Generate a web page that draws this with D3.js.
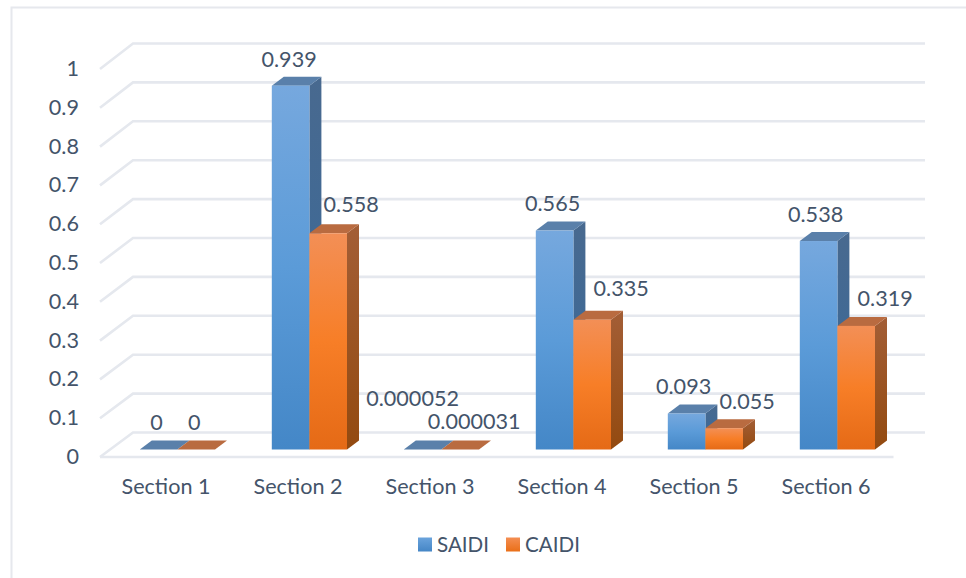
<!DOCTYPE html>
<html>
<head>
<meta charset="utf-8">
<script src="https://cdn.jsdelivr.net/npm/d3@7"></script>
<style>
  html, body { margin: 0; padding: 0; background: #fff; }
  svg { display: block; }
  text { font-family: Lato, "Open Sans", sans-serif; fill: #44546a; }
</style>
</head>
<body>
<svg id="chart" width="966" height="578"></svg>
<script>
// Reliability indices per network section
const categories = ["Section 1", "Section 2", "Section 3", "Section 4", "Section 5", "Section 6"];
const saidi = [0, 0.939, 0.000052, 0.565, 0.093, 0.538];
const caidi = [0, 0.558, 0.000031, 0.335, 0.055, 0.319];
const saidiText = ["0", "0.939", "0.000052", "0.565", "0.093", "0.538"];
const caidiText = ["0", "0.558", "0.000031", "0.335", "0.055", "0.319"];
const yTicks = [0, 0.1, 0.2, 0.3, 0.4, 0.5, 0.6, 0.7, 0.8, 0.9, 1];

// Hand-placed data label offsets from each bar's top centre
const saidiNudge = [[-2, -19.5], [-1.5, -19], [-10, -43.5], [-2, -20], [-3, -19.5], [-3, -19]];
const caidiNudge = [[-2, -19.5], [23, -21], [14, -20.5], [29, -24], [23, -19.5], [29, -20]];

const width = 966, height = 578;
const depthX = 12, depthY = 9;       // bar extrusion
const fontSize = 21.6;
const svg = d3.select("#chart");

// Front-plane bar scale, back wall scale and side wall scale share one value domain
const yBar = d3.scaleLinear().domain([0, 1]).range([449.5, 62]);
const yBack = d3.scaleLinear().domain([0, 1]).range([432.5, 43.5]);
const ySide = d3.scaleLinear().domain([0, 1]).range([457, 69]);

const x0 = d3.scaleBand().domain(categories).range([111, 903]).paddingInner(0).paddingOuter(0);
const barW = 37.6;
const labelX = d3.scalePoint().domain(categories).range([166, 826]);

// Gradients
const defs = svg.append("defs");
function gradient(id, stops) {
  const g = defs.append("linearGradient").attr("id", id)
    .attr("x1", 0).attr("y1", 0).attr("x2", 0).attr("y2", 1);
  stops.forEach(s => g.append("stop").attr("offset", s[0]).attr("stop-color", s[1]));
}
gradient("blueFront", [[0, "#76a8de"], [0.5, "#5b9bd8"], [1, "#4487c7"]]);
gradient("orangeFront", [[0, "#f38f56"], [0.5, "#f77e27"], [1, "#e56a16"]]);
gradient("blueSide", [[0, "#48698f"], [1, "#376a9c"]]);
gradient("orangeSide", [[0, "#a35e36"], [1, "#934a10"]]);
gradient("legendBlue", [[0, "#6aa3dc"], [1, "#4586c6"]]);
gradient("legendOrange", [[0, "#f48e52"], [1, "#ea6f18"]]);

// Chart frame
svg.append("path")
  .attr("d", "M11.5,578V7.5H966")
  .attr("fill", "none").attr("stroke", "#e6e8ed").attr("stroke-width", 2);

// Gridlines: side wall and back wall
const gridColor = "#e5e8ee";
const grid = svg.append("g").attr("fill", "none").attr("stroke", gridColor).attr("stroke-width", 2.6);
grid.selectAll("path").data(yTicks).join("path")
  .attr("d", d => `M100,${ySide(d)}L133,${yBack(d)}H925`);

// Floor front edge
grid.append("path").attr("d", `M100,${ySide(0)}H893.5`);

// Tick labels
svg.append("g").selectAll("text").data(yTicks).join("text")
  .attr("x", 79).attr("y", d => ySide(d) - 0.5)
  .attr("dy", "0.35em")
  .attr("text-anchor", "end").attr("font-size", fontSize)
  .text(d => d);

// Category labels
svg.append("g").selectAll("text").data(categories).join("text")
  .attr("x", d => labelX(d)).attr("y", 494)
  .attr("text-anchor", "middle").attr("font-size", fontSize)
  .text(d => d);

// Extruded bars, drawn back to front within each section
const rows = [];
categories.forEach((c, i) => {
  rows.push({ c, v: saidi[i], off: 0, name: "blue", top: "#5a80aa", text: saidiText[i], nudge: saidiNudge[i] });
  rows.push({ c, v: caidi[i], off: barW, name: "orange", top: "#b96b40", text: caidiText[i], nudge: caidiNudge[i] });
});

const bars = svg.append("g").selectAll("g").data(rows).join("g");
const left = d => x0(d.c) + 28.8 + d.off;

bars.append("path")
  .attr("fill", d => `url(#${d.name}Side)`)
  .attr("d", d => {
    const l = left(d) + barW, t = yBar(d.v), b = yBar(0);
    return `M${l},${t}l${depthX},${-depthY}V${b - depthY}L${l},${b}Z`;
  });
bars.append("path")
  .attr("fill", d => d.top)
  .attr("d", d => {
    const l = left(d), t = yBar(d.v);
    return `M${l},${t}l${depthX},${-depthY}h${barW}l${-depthX},${depthY}Z`;
  });
bars.append("rect")
  .attr("fill", d => `url(#${d.name}Front)`)
  .attr("x", left)
  .attr("y", d => yBar(d.v))
  .attr("width", barW)
  .attr("height", d => yBar(0) - yBar(d.v));

// Data labels
svg.append("g").selectAll("text").data(rows).join("text")
  .attr("x", d => left(d) + barW / 2 + d.nudge[0])
  .attr("y", d => yBar(d.v) + d.nudge[1])
  .attr("text-anchor", "middle").attr("font-size", fontSize)
  .text(d => d.text);

// Legend
const legendItems = [["SAIDI", "legendBlue", 418], ["CAIDI", "legendOrange", 506]];
const legend = svg.append("g").selectAll("g").data(legendItems).join("g");
legend.append("rect").attr("x", d => d[2]).attr("y", 537.5)
  .attr("width", 14).attr("height", 14).attr("fill", d => `url(#${d[1]})`);
legend.append("text").attr("x", d => d[2] + 19).attr("y", 552)
  .attr("font-size", 20.6).text(d => d[0]);
</script>
</body>
</html>
